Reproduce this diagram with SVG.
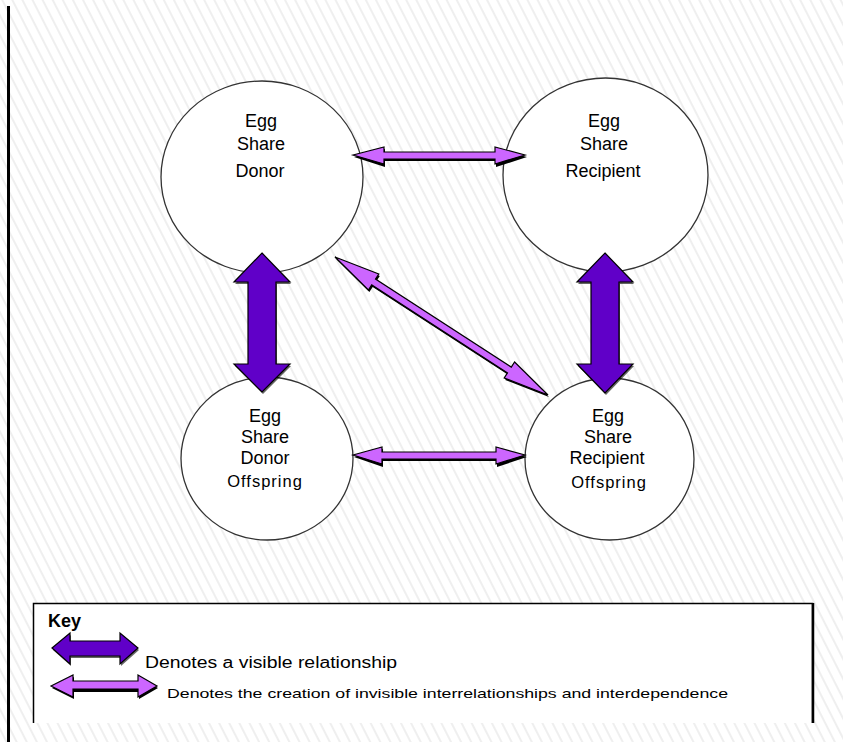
<svg xmlns="http://www.w3.org/2000/svg" width="843" height="742" viewBox="0 0 843 742">
<defs>
<pattern id="hatch" width="9" height="9" patternUnits="userSpaceOnUse" patternTransform="rotate(-27)">
<rect width="9" height="9" fill="#ffffff"/>
<line x1="2" y1="0" x2="2" y2="9" stroke="#ebebeb" stroke-width="1.6"/>
</pattern>
</defs>
<style>
.node{fill:#ffffff;stroke:#333333;stroke-width:1.3}
.lbl{font-family:"Liberation Sans",Arial,sans-serif;font-size:18px;fill:#000000;text-anchor:middle}
.off{font-size:16.5px;letter-spacing:1px}
.dark{fill:#6000C8;stroke:#000000;stroke-width:1.2;stroke-linejoin:miter}
.light{fill:#CC66FF;stroke:#000000;stroke-width:1.2;stroke-linejoin:miter}
.shadow{fill:#000000}
.keytxt{font-family:"Liberation Sans",Arial,sans-serif;fill:#000000}
</style>
<rect width="843" height="742" fill="url(#hatch)"/>
<line x1="8.5" y1="6" x2="8.5" y2="742" stroke="#000000" stroke-width="3"/>

<g id="node-donor">
<ellipse class="node" cx="262" cy="177" rx="101" ry="96"/>
<text class="lbl" x="261" y="127">Egg</text>
<text class="lbl" x="261" y="150">Share</text>
<text class="lbl" x="260" y="177">Donor</text>
</g>
<g id="node-recipient">
<ellipse class="node" cx="605.5" cy="175" rx="102.5" ry="97"/>
<text class="lbl" x="604" y="127">Egg</text>
<text class="lbl" x="604" y="150">Share</text>
<text class="lbl" x="603" y="177">Recipient</text>
</g>
<g id="node-donor-offspring">
<ellipse class="node" cx="267" cy="458.5" rx="86" ry="81.5"/>
<text class="lbl" x="265" y="422">Egg</text>
<text class="lbl" x="265" y="443">Share</text>
<text class="lbl" x="265" y="464">Donor</text>
<text class="lbl off" x="265" y="487">Offspring</text>
</g>
<g id="node-recipient-offspring">
<ellipse class="node" cx="609.5" cy="459" rx="84.5" ry="81"/>
<text class="lbl" x="608" y="422">Egg</text>
<text class="lbl" x="608" y="443">Share</text>
<text class="lbl" x="607" y="464">Recipient</text>
<text class="lbl off" x="609" y="488">Offspring</text>
</g>

<g id="connectors">
<!-- top horizontal: donor <-> recipient -->
<polygon class="shadow" points="354,157 385,149 385,155 496,155 496,149 527,157 496,167 496,161 385,161 385,167"/>
<polygon class="light" points="353,155 384,147 384,152 495,152 495,147 525,155 495,164 495,159 384,159 384,164"/>
<!-- bottom horizontal: offspring <-> offspring -->
<polygon class="shadow" points="354,457 383,449 383,455 497,455 497,449 527,457 497,467 497,461 383,461 383,467"/>
<polygon class="light" points="353,455 382,447 382,452 496,452 496,447 525,455 496,464 496,459 382,459 382,464"/>
<!-- diagonal: donor <-> recipient offspring -->
<polygon class="shadow" points="336,259 379.8,276 376.5,281.1 512.3,369.1 515.6,364 549,397 505.2,380 508.5,374.9 372.7,286.9 369.4,292"/>
<polygon class="light" points="335,257 378.8,274 375.5,279.1 511.3,367.1 514.6,362 548,395 504.2,378 507.5,372.9 371.7,284.9 368.4,290"/>
<!-- vertical left: donor <-> donor offspring -->
<polygon class="shadow" points="263,255 291,284 277,284 277,366 291,366 263,394 235,366 249,366 249,284 235,284" fill-opacity="0.6"/>
<polygon class="dark" points="262,253 290,282 276,282 276,364 290,364 262,392 234,364 248,364 248,282 234,282"/>
<!-- vertical right: recipient <-> recipient offspring -->
<polygon class="shadow" points="606,255 634,284 620,284 620,366 634,366 606,395 578,366 592,366 592,284 578,284" fill-opacity="0.6"/>
<polygon class="dark" points="605,253 633,282 619,282 619,364 633,364 605,393 577,364 591,364 591,282 577,282"/>
</g>

<g id="key">
<path d="M33.5,723 V603.5 H812.5 V723" fill="#ffffff" stroke="none"/>
<path d="M33.5,723 V603.5 H812.5 V723" fill="none" stroke="#000000" stroke-width="1.5"/>
<line x1="813" y1="603" x2="813" y2="723" stroke="#000000" stroke-width="2.5"/>
<text class="keytxt" x="48" y="627" font-size="18" font-weight="bold">Key</text>
<polygon class="shadow" points="53,650 71,635 71,643 121,643 121,635 139,650 121,666 121,658 71,658 71,666" fill-opacity="0.6"/>
<polygon class="dark" points="52,648 70,633 70,641 120,641 120,633 138,648 120,664 120,656 70,656 70,664"/>
<text class="keytxt" x="145" y="668" font-size="16" textLength="252" lengthAdjust="spacingAndGlyphs">Denotes a visible relationship</text>
<polygon class="shadow" points="52,688 74,677 74,684 139,684 139,677 158,688 139,699 139,692 74,692 74,699"/>
<polygon class="light" points="51,686 73,675 73,681 138,681 138,675 157,686 138,697 138,689 73,689 73,697"/>
<text class="keytxt" x="167" y="698" font-size="13" textLength="561" lengthAdjust="spacingAndGlyphs">Denotes the creation of invisible interrelationships and interdependence</text>
</g>
</svg>
